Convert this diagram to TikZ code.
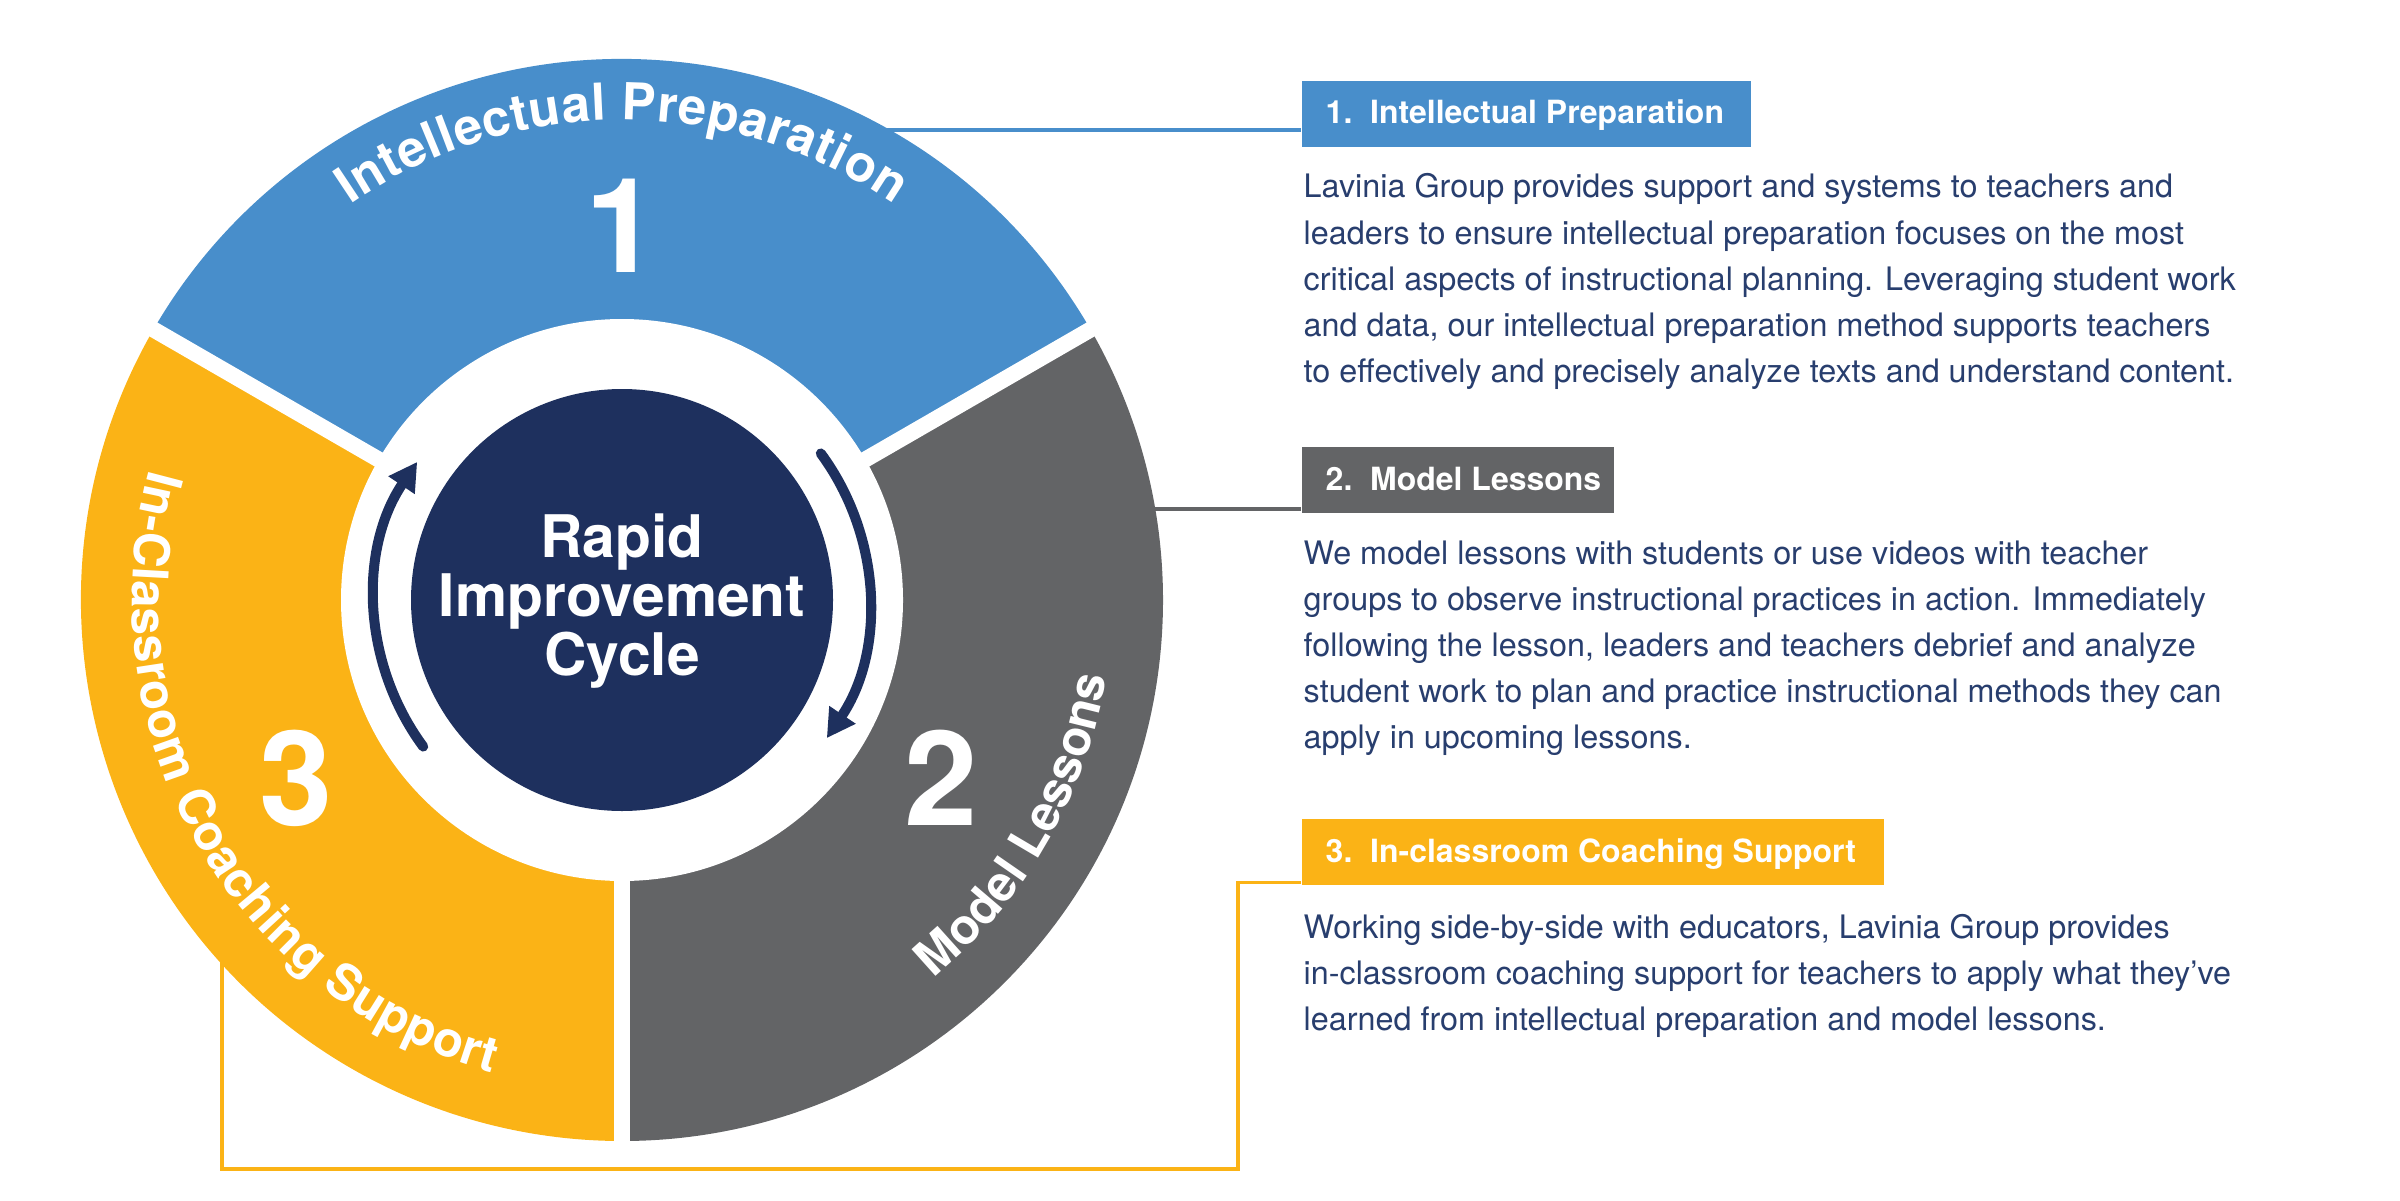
\documentclass[tikz,border=0pt]{standalone}
\usepackage{fontspec}
\setmainfont{TeX Gyre Heros}
\usetikzlibrary{arrows.meta,decorations.text}
\definecolor{segblue}{RGB}{72,142,203}
\definecolor{seggray}{RGB}{99,100,102}
\definecolor{segyellow}{RGB}{251,179,22}
\definecolor{navy}{RGB}{30,48,94}
\definecolor{bodynavy}{RGB}{40,62,110}
\newcommand\curvefont{\bfseries\fontsize{14.5pt}{14.5pt}\selectfont\color{white}}
\newcommand\curvefontb{\bfseries\fontsize{14pt}{14pt}\selectfont\color{white}}
\tikzset{
  gapline/.style={white, line width=0.16cm},
  conn/.style={line width=1pt},
  cyc/.style={draw=navy, line width=2.85pt, line cap=round, -{Triangle[length=8pt,width=8.5pt]}},
  hbox/.style={inner sep=0, minimum height=0.66cm, anchor=north west},
  htext/.style={inner sep=0, anchor=base west, text=white, font=\bfseries\fontsize{9.1pt}{11pt}\selectfont},
  body/.style={inner sep=0, anchor=base west, text=bodynavy, font=\fontsize{9.2pt}{13.09pt}\selectfont},
  digit/.style={inner sep=0, anchor=base, text=white, font=\bfseries\fontsize{37.5pt}{40pt}\selectfont},
  curve/.style={decorate, decoration={text along path, text align=fit to path, text={|\curvefont|#1}}},
  curveb/.style={decorate, decoration={text along path, text align=fit to path, text={|\curvefontb|#1}}}
}
\begin{document}
\begin{tikzpicture}
\useasboundingbox (0,0) rectangle (24,12);
\coordinate (C) at (6.22,6.00);

% header boxes
\node[hbox, fill=segblue, minimum width=4.49cm] (h1) at (13.01,11.20) {};
\node[hbox, fill=seggray, minimum width=3.12cm] (h2) at (13.01,7.54) {};
\node[hbox, fill=segyellow, minimum width=5.82cm] (h3) at (13.01,3.82) {};
\node[htext] (h1t) at (13.25,10.76) {1.\ \ Intellectual Preparation};
\node[htext] (h2t) at (13.25,7.10) {2.\ \ Model Lessons};
\node[htext] (h3t) at (13.25,3.38) {3.\ \ In-classroom Coaching Support};

% connectors (drawn under the wheel)
\coordinate (j1) at (6.22,10.70);
\coordinate (j2) at (6.22,6.91);
\coordinate (y1) at (12.38,0.31);
\coordinate (y2) at (2.22,6.00);
\draw[conn, draw=segblue] (j1) -- (j1 -| h1.west);
\draw[conn, draw=seggray] (j2) -- (j2 -| h2.west);
\draw[conn, draw=segyellow] ([yshift=0.03cm]h3.south west) -| (y1) -| (y2);

% wheel segments
\fill[segblue] (C) -- ++(30:5.41) arc[start angle=30, end angle=150, radius=5.41] -- cycle;
\fill[seggray] (C) -- ++(-90:5.41) arc[start angle=-90, end angle=30, radius=5.41] -- cycle;
\fill[segyellow] (C) -- ++(150:5.41) arc[start angle=150, end angle=270, radius=5.41] -- cycle;
\draw[gapline] (C) -- ++(30:5.5);
\draw[gapline] (C) -- ++(150:5.5);
\draw[gapline] (C) -- ++(270:5.45);
\fill[white] (C) circle[radius=2.81];
\fill[navy] (C) circle[radius=2.11];

% cycle arrows
\draw[cyc] (C) ++(36.4:2.47) arc[start angle=36.4, end angle=-34, radius=2.47];
\draw[cyc] (C) ++(216.4:2.47) arc[start angle=216.4, end angle=146, radius=2.47];

% centre text
\node[inner sep=0, anchor=base, text=white, font=\bfseries\fontsize{16.7pt}{16.79pt}\selectfont] (ctr) at (6.22,6.43)
  {\parbox[t]{4.5cm}{\centering Rapid\\Improvement\\Cycle}};

% big digits
\node[digit] (d1) at (6.22,9.28) {1};
\node[digit] (d2) at (9.41,3.75) {2};
\node[digit] (d3) at (2.96,3.75) {3};

% curved labels
\path[curve={Intellectual Preparation}] (C) ++(124.5:4.80) arc[start angle=124.5, end angle=55.5, radius=4.80];
\path[curveb={In-Classroom Coaching Support}] (C) ++(164.6:4.90) arc[start angle=164.6, end angle=254.6, radius=4.90];
\path[curveb={Model Lessons}] (C) ++(-50.5:4.90) arc[start angle=-50.5, end angle=-9.3, radius=4.90];

% body texts
\node[body] (b1) at (13.03,10.02) {\parbox[t]{11cm}{Lavinia Group provides support and systems to teachers and\\
leaders to ensure intellectual preparation focuses on the most\\
critical aspects of instructional planning. Leveraging student work\\
and data, our intellectual preparation method supports teachers\\
to effectively and precisely analyze texts and understand content.}};
\node[body] (b2) at (13.03,6.36) {\parbox[t]{11cm}{We model lessons with students or use videos with teacher\\
groups to observe instructional practices in action. Immediately\\
following the lesson, leaders and teachers debrief and analyze\\
student work to plan and practice instructional methods they can\\
apply in upcoming lessons.}};
\node[body] (b3) at (13.03,2.62) {\parbox[t]{11cm}{Working side-by-side with educators, Lavinia Group provides\\
in-classroom coaching support for teachers to apply what they’ve\\
learned from intellectual preparation and model lessons.}};
\end{tikzpicture}
\end{document}
